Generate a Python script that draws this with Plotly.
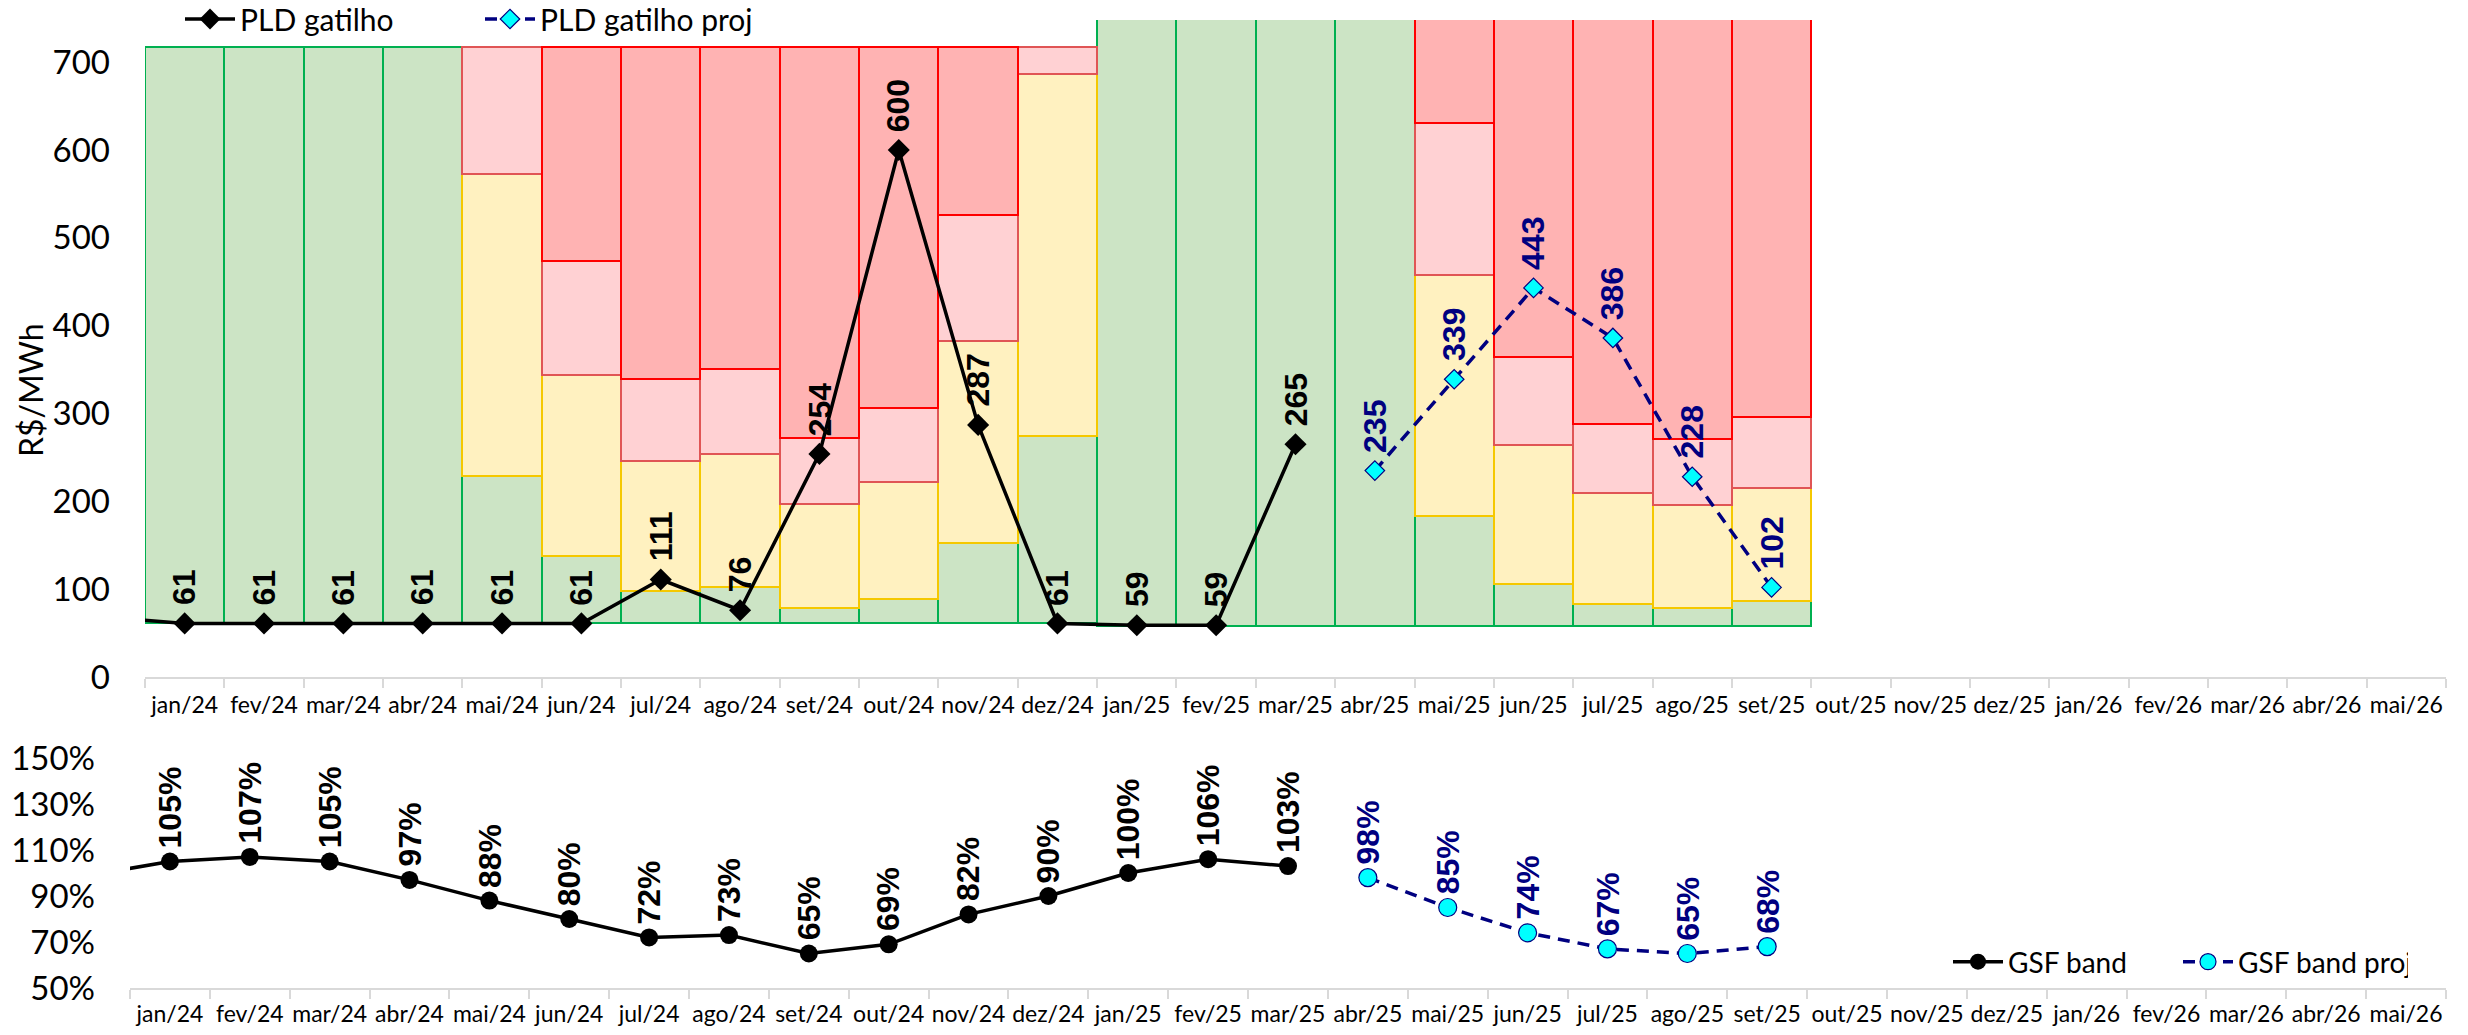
import plotly.graph_objects as go

W, H = 2468, 1035

# ---------------- data ----------------
tick_labels = ["jan/24", "fev/24", "mar/24", "abr/24", "mai/24", "jun/24", "jul/24", "ago/24",
               "set/24", "out/24", "nov/24", "dez/24", "jan/25", "fev/25", "mar/25", "abr/25",
               "mai/25", "jun/25", "jul/25", "ago/25", "set/25", "out/25", "nov/25", "dez/25",
               "jan/26", "fev/26", "mar/26", "abr/26", "mai/26"]

# band months jan/24 .. set/25
band_floor = [61.07, 61.07, 61.07, 61.07, 61.07, 61.07, 61.07, 61.07, 61.07, 61.07, 61.07, 61.07,
              58.60, 58.60, 58.60, 58.60, 58.60, 58.60, 58.60, 58.60, 58.60]
band_ceil = [716.80, 716.80, 716.80, 716.80, 716.80, 716.80, 716.80, 716.80, 716.80, 716.80, 716.80, 716.80,
             751.73, 751.73, 751.73, 751.73, 751.73, 751.73, 751.73, 751.73, 751.73]
green_top = [716.80, 716.80, 716.80, 716.80, 229, 138, 98, 102, 78, 89, 152, 274,
             751.73, 751.73, 751.73, 751.73, 183, 106, 83, 79, 87]
yellow_top = [716.80, 716.80, 716.80, 716.80, 573, 344, 246, 254, 197, 222, 382, 687,
              751.73, 751.73, 751.73, 751.73, 458, 264, 209, 196, 215]
pink_top = [716.80, 716.80, 716.80, 716.80, 716.80, 474, 339, 351, 272, 306, 526, 716.80,
            751.73, 751.73, 751.73, 751.73, 631, 364, 288, 271, 296]

# PLD gatilho: dez/23 .. mar/25  (x index -1 .. 14)
pld_x = [-1, 0, 1, 2, 3, 4, 5, 6, 7, 8, 9, 10, 11, 12, 13, 14]
pld_val = [68, 61, 61, 61, 61, 61, 61, 111, 76, 254, 600, 287, 61, 59, 59, 265]
# PLD gatilho proj: abr/25 .. set/25
pldp_x = [15, 16, 17, 18, 19, 20]
pldp_val = [235, 339, 443, 386, 228, 102]

# GSF band (%): dez/23 .. mar/25
gsf_x = [-1, 0, 1, 2, 3, 4, 5, 6, 7, 8, 9, 10, 11, 12, 13, 14]
gsf_val = [99, 105, 107, 105, 97, 88, 80, 72, 73, 65, 69, 82, 90, 100, 106, 103]
gsfp_x = [15, 16, 17, 18, 19, 20]
gsfp_val = [98, 85, 74, 67, 65, 68]

pld_ticks = [0, 100, 200, 300, 400, 500, 600, 700]
gsf_ticks = [50, 70, 90, 110, 130, 150]

# ---------------- styles ----------------
GREEN_F, GREEN_L = "#CCE4C5", "#00B050"
YEL_F, YEL_L = "#FFF1C0", "#F5C800"
PINK_F, PINK_L = "#FFD1D3", "#E05555"
RED_F, RED_L = "#FFB3B3", "#FF0000"
NAVY = "#000080"
TICKFONT = "Lato"
LABFONT = "Liberation Sans"

def px_x(p):
    return p / W

def px_y(p):
    return 1 - p / H

fig = go.Figure()

band_x = list(range(len(band_floor)))

def seg(lo, hi, fill, line):
    bases, heights = [], []
    for a, b in zip(lo, hi):
        if b - a > 0.01:
            bases.append(a)
            heights.append(b - a)
        else:
            bases.append(None)
            heights.append(None)
    fig.add_trace(go.Bar(x=band_x, y=heights, base=bases, width=1.0,
                         marker=dict(color=fill, line=dict(color=line, width=2)),
                         showlegend=False, hoverinfo="skip", xaxis="x", yaxis="y"))

seg(band_floor, green_top, GREEN_F, GREEN_L)
seg(green_top, yellow_top, YEL_F, YEL_L)
seg(yellow_top, pink_top, PINK_F, PINK_L)
seg(pink_top, band_ceil, RED_F, RED_L)

fig.add_trace(go.Scatter(x=pld_x, y=pld_val, mode="lines+markers", name="PLD gatilho",
                         line=dict(color="black", width=3.5),
                         marker=dict(symbol="diamond", size=17, color="black"),
                         xaxis="x", yaxis="y", legend="legend"))
fig.add_trace(go.Scatter(x=pldp_x, y=pldp_val, mode="lines+markers", name="PLD gatilho proj",
                         line=dict(color=NAVY, width=3.5, dash="12px,8px"),
                         marker=dict(symbol="diamond", size=15, color="#00FFFF",
                                     line=dict(color=NAVY, width=1.2)),
                         xaxis="x", yaxis="y", legend="legend"))

fig.add_trace(go.Scatter(x=gsf_x, y=gsf_val, mode="lines+markers", name="GSF band",
                         line=dict(color="black", width=3.5),
                         marker=dict(symbol="circle", size=18, color="black"),
                         xaxis="x2", yaxis="y2", legend="legend2"))
fig.add_trace(go.Scatter(x=gsfp_x, y=gsfp_val, mode="lines+markers", name="GSF band proj",
                         line=dict(color=NAVY, width=3.5, dash="12px,8px"),
                         marker=dict(symbol="circle", size=18, color="#00FFFF",
                                     line=dict(color=NAVY, width=1.2)),
                         xaxis="x2", yaxis="y2", legend="legend2"))

annotations = []
for xv, yv in zip(pld_x, pld_val):
    if xv < 0:
        continue
    annotations.append(dict(x=xv, y=yv, xref="x", yref="y", text=f"<b>{yv}</b>", textangle=-90,
                            showarrow=False, yanchor="bottom", xanchor="center", yshift=16,
                            font=dict(family=LABFONT, size=32, color="black")))
for xv, yv in zip(pldp_x, pldp_val):
    annotations.append(dict(x=xv, y=yv, xref="x", yref="y", text=f"<b>{yv}</b>", textangle=-90,
                            showarrow=False, yanchor="bottom", xanchor="center", yshift=16,
                            font=dict(family=LABFONT, size=32, color=NAVY)))
for xv, yv in zip(gsf_x, gsf_val):
    if xv < 0:
        continue
    annotations.append(dict(x=xv, y=yv, xref="x2", yref="y2", text=f"<b>{yv}%</b>", textangle=-90,
                            showarrow=False, yanchor="bottom", xanchor="center", yshift=11,
                            font=dict(family=LABFONT, size=32, color="black")))
for xv, yv in zip(gsfp_x, gsfp_val):
    annotations.append(dict(x=xv, y=yv, xref="x2", yref="y2", text=f"<b>{yv}%</b>", textangle=-90,
                            showarrow=False, yanchor="bottom", xanchor="center", yshift=11,
                            font=dict(family=LABFONT, size=32, color=NAVY)))
annotations.append(dict(x=px_x(30), y=px_y(390), xref="paper", yref="paper", text="R$/MWh",
                        textangle=-90, showarrow=False, xanchor="center", yanchor="middle",
                        font=dict(family=TICKFONT, size=32, color="black")))

xcommon = dict(range=[-0.5, 28.5], tickmode="array", tickvals=list(range(len(tick_labels))),
               ticktext=tick_labels, ticks="", showgrid=False, zeroline=False,
               showline=True, linecolor="#D9D9D9", linewidth=2,
               tickfont=dict(family=TICKFONT, size=23, color="black"),
               minor=dict(tick0=-0.5, dtick=1, ticks="outside", ticklen=9, tickwidth=2,
                          tickcolor="#D9D9D9", showgrid=False),
               automargin=False, fixedrange=True)

fig.update_layout(
    width=W, height=H,
    margin=dict(l=0, r=0, t=0, b=0, autoexpand=False),
    paper_bgcolor="white", plot_bgcolor="rgba(0,0,0,0)",
    barmode="overlay", bargap=0,
    xaxis=dict(domain=[px_x(145), px_x(2446)], anchor="y", ticklabelstandoff=6, **xcommon),
    xaxis2=dict(domain=[px_x(130), px_x(2446)], anchor="y2", ticklabelstandoff=4, **xcommon),
    yaxis=dict(domain=[px_y(677), px_y(20)], anchor="x", range=[0, 748],
               tickmode="array", tickvals=pld_ticks, ticktext=[str(v) for v in pld_ticks],
               ticks="", showgrid=False,
               zeroline=False, showline=False, ticklabelstandoff=34,
               tickfont=dict(family=TICKFONT, size=33, color="black"), automargin=False),
    yaxis2=dict(domain=[px_y(988), px_y(758)], anchor="x2", range=[50, 150],
                tickmode="array", tickvals=gsf_ticks, ticktext=[f"{v}%" for v in gsf_ticks],
                ticks="", showgrid=False,
                zeroline=False, showline=False, ticklabelstandoff=34,
                tickfont=dict(family=TICKFONT, size=33, color="black"), automargin=False),
    legend=dict(orientation="h", xref="container", yref="container",
                x=px_x(180), y=px_y(19), xanchor="left", yanchor="middle",
                font=dict(family=TICKFONT, size=30, color="black"), bgcolor="rgba(0,0,0,0)",
                entrywidth=235, itemwidth=50),
    legend2=dict(orientation="h", xref="container", yref="container",
                 x=px_x(1948), y=px_y(962), xanchor="left", yanchor="middle",
                 font=dict(family=TICKFONT, size=28, color="black"), bgcolor="rgba(0,0,0,0)",
                 entrywidth=165, itemwidth=50),
    annotations=annotations,
    showlegend=True,
)

fig.write_html("out.html", config={"displayModeBar": False},
               post_script="document.body.style.margin='0';document.body.style.overflow='hidden';")
